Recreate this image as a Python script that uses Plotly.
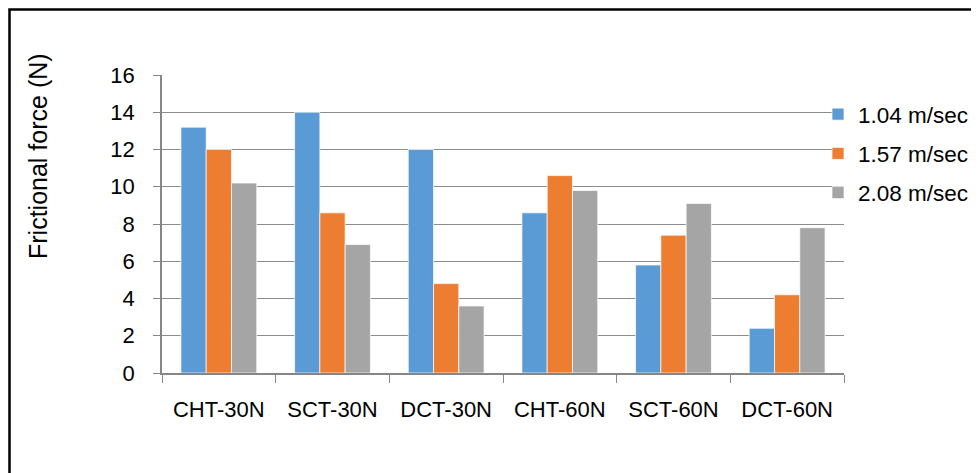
import plotly.graph_objects as go

categories = ["CHT-30N", "SCT-30N", "DCT-30N", "CHT-60N", "SCT-60N", "DCT-60N"]
series_names = ["1.04 m/sec", "1.57 m/sec", "2.08 m/sec"]
v_104 = [13.2, 14.0, 12.0, 8.6, 5.8, 2.4]
v_157 = [12.0, 8.6, 4.8, 10.6, 7.4, 4.2]
v_208 = [10.2, 6.9, 3.6, 9.8, 9.1, 7.8]
y_ticks = [0, 2, 4, 6, 8, 10, 12, 14, 16]
colors = ["#5B9BD5", "#ED7D31", "#A5A5A5"]

# page has an 8px body margin; figure is sized to fit the window
OFF = 8
W, H = 979 - OFF, 473 - OFF
L, T = 162 - OFF, 75 - OFF
pw, ph = 682, 298
R, B = W - L - pw, H - T - ph

def px_x(x):
    return (x - OFF - L) / pw

def px_y(y):
    return (T + ph - (y - OFF)) / ph

FONT = "Liberation Sans, Arial, sans-serif"
FS = 22

fig = go.Figure()
for name, vals, c in zip(series_names, [v_104, v_157, v_208], colors):
    fig.add_trace(go.Bar(
        x=categories, y=vals, name=name,
        marker=dict(color=c, line=dict(color="rgba(255,255,255,0.7)", width=1)),
        legendgroup=name,
    ))

fig.update_layout(
    width=W, height=H,
    margin=dict(l=L, r=R, t=T, b=B, autoexpand=False),
    paper_bgcolor="white", plot_bgcolor="white",
    barmode="group", bargap=0.333, bargroupgap=0,
    font=dict(family=FONT, size=FS, color="#000000"),
    showlegend=True,
    legend=dict(
        x=px_x(818), y=px_y(93), xanchor="left", yanchor="top",
        font=dict(family=FONT, size=22.5, color="#000000"),
        tracegroupgap=7, bgcolor="rgba(0,0,0,0)",
        itemclick=False, itemdoubleclick=False,
    ),
    xaxis=dict(
        showline=True, linecolor="#868686", linewidth=2,
        ticks="outside", tickson="boundaries", ticklen=8, tickcolor="#868686", tickwidth=1,
        ticklabelstandoff=16, showgrid=False,
        tickfont=dict(family=FONT, size=FS, color="#000000"),
    ),
    yaxis=dict(
        range=[0, 16], tickvals=y_ticks, showline=True, linecolor="#868686", linewidth=1.5,
        ticks="outside", ticklen=7, tickcolor="#868686", tickwidth=1,
        showgrid=True, gridcolor="#8C8C8C", gridwidth=1, zeroline=False,
        ticklabelstandoff=14,
        tickfont=dict(family=FONT, size=FS, color="#000000"),
    ),
    annotations=[dict(
        text="Frictional force (N)", textangle=-90, showarrow=False,
        xref="paper", yref="paper", x=px_x(38), y=px_y(156),
        xanchor="center", yanchor="middle",
        font=dict(family=FONT, size=25, color="#000000"),
    )],
    shapes=[dict(
        type="rect", xref="paper", yref="paper",
        x0=px_x(9.5), x1=px_x(1010), y0=px_y(520), y1=px_y(9.5),
        line=dict(color="#000000", width=2.5), fillcolor="rgba(0,0,0,0)", layer="above",
    )],
)

fig.write_html("out.html")
